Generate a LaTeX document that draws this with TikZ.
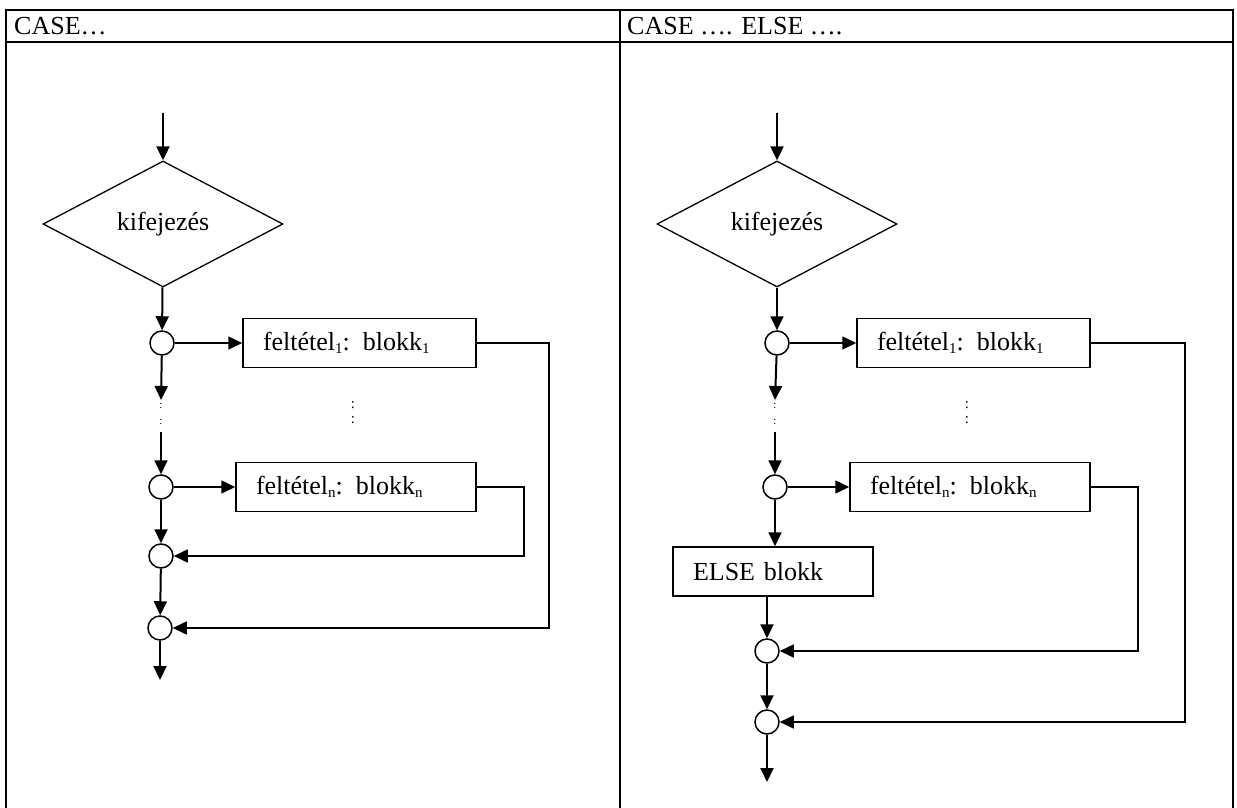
\documentclass[tikz,border=0pt]{standalone}
\usepackage{fontspec}
\setmainfont{Liberation Serif}
\usetikzlibrary{positioning}
\usetikzlibrary{arrows.meta}
\usetikzlibrary{shapes.geometric}
\newcommand{\idx}[1]{\raisebox{-0.25ex}{\fontsize{15}{15}\selectfont #1}}

\begin{document}
\begin{tikzpicture}[x=1pt,y=-1pt,font=\fontsize{26}{31}\selectfont]
\tikzset{cond/.style={diamond,minimum width=240pt,minimum height=126pt,inner sep=0pt,draw,line width=1.3pt}}
\tikzset{joint/.style={circle,minimum size=24pt,inner sep=0pt,draw,line width=1.5pt}}
\tikzset{blokk/.style={rectangle,minimum height=49pt,inner xsep=20pt,inner ysep=0pt,align=left,draw,line width=1.5pt}}
\tikzset{flow/.style={line width=1.5pt,-{Triangle[length=14pt,width=13pt]}}}
\tikzset{down/.style={flow,line width=2pt}}
\tikzset{dots/.style={align=center,inner sep=0pt,font=\fontsize{15}{15}\selectfont}}
\tikzset{smalldots/.style={dots,font=\fontsize{11}{16}\selectfont}}
\tikzset{grid/.style={line width=2pt}}
\useasboundingbox (0,0) rectangle (1237,808);
% table
\draw[grid] (6,808) -- (6,10) -- (1233,10) -- (1233,808);
\draw[grid] (6,42) -- (1233,42);
\draw[grid] (620,10) -- (620,808);
\node[anchor=base west,inner sep=0pt] (head1) at (14,35) {CASE…};
\node[anchor=base west,inner sep=0pt] (head2) at (627,35) {CASE …. ELSE ….};
% CASE
\coordinate (in1) at (163,113);
\node[cond] (dia1) at (163,224) {kifejezés};
\node[joint] (c11) at (162,343) {};
\node[blokk,text width=193pt] (b11) at (359.5,343) {feltétel\idx{1}: blokk\idx{1}};
\coordinate (d11) at (161,400);
\node[smalldots] (v11) at (161,414) {:\\:};
\coordinate (d12) at (161,432);
\node[dots] (v12) at (353,413) {:\\:};
\node[joint] (c1n) at (161,487) {};
\node[blokk,text width=200pt] (b1n) at (356,487) {feltétel\idx{n}: blokk\idx{n}};
\node[joint] (c13) at (161,556) {};
\node[joint] (c14) at (160,628) {};
\coordinate (out1) at (160,680);
\coordinate (r11) at (549,343);
\coordinate (r1n) at (524,487);
\draw[down](in1) -- (dia1);
\draw[down](dia1) -- (c11);
\draw[flow](c11) -- (b11);
\draw[down](c11) -- (d11);
\draw[down](d12) -- (c1n);
\draw[flow](c1n) -- (b1n);
\draw[flow](b11) -- (r11) |- (c14);
\draw[flow](b1n) -- (r1n) |- (c13);
\draw[down](c1n) -- (c13);
\draw[down](c13) -- (c14);
\draw[down](c14) -- (out1);
% CASE ... ELSE
\coordinate (in2) at (777,113);
\node[cond] (dia2) at (777,224) {kifejezés};
\node[joint] (c21) at (777,343) {};
\node[blokk,text width=193pt] (b21) at (973.5,343) {feltétel\idx{1}: blokk\idx{1}};
\coordinate (d21) at (775,400);
\node[smalldots] (v21) at (775,414) {:\\:};
\coordinate (d22) at (775,432);
\node[dots] (v22) at (967,413) {:\\:};
\node[joint] (c2n) at (775,487) {};
\node[blokk,text width=200pt] (b2n) at (970,487) {feltétel\idx{n}: blokk\idx{n}};
\node[blokk,text width=160pt] (else2) at (773,571.5) {ELSE blokk};
\node[joint] (c23) at (767,651) {};
\node[joint] (c24) at (767,722) {};
\coordinate (out2) at (767,782);
\coordinate (r21) at (1185,343);
\coordinate (r2n) at (1138,487);
\draw[down](in2) -- (dia2);
\draw[down](dia2) -- (c21);
\draw[flow](c21) -- (b21);
\draw[down](c21) -- (d21);
\draw[down](d22) -- (c2n);
\draw[flow](c2n) -- (b2n);
\draw[flow](b21) -- (r21) |- (c24);
\draw[flow](b2n) -- (r2n) |- (c23);
\draw[down](c2n) -- (else2.north -| c2n);
\draw[down](else2.south -| c23) -- (c23);
\draw[down](c23) -- (c24);
\draw[down](c24) -- (out2);
\end{tikzpicture}
\end{document}
